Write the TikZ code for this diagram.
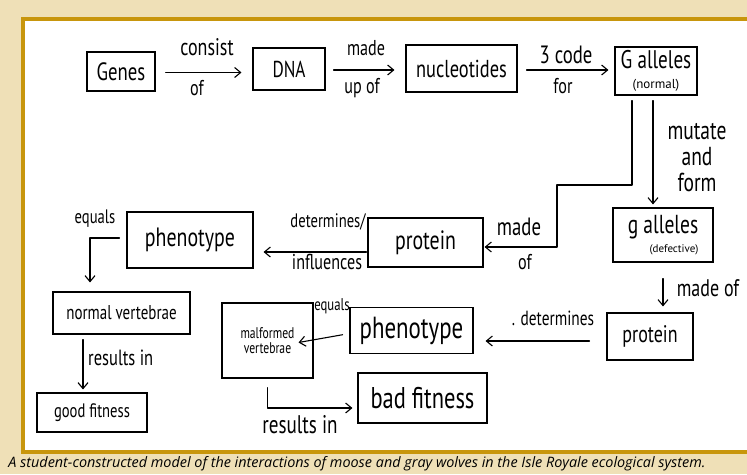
\documentclass[tikz,border=0pt]{standalone}
\usepackage{fontspec}
\usetikzlibrary{arrows.meta,calc}
\newfontfamily\hand[FakeStretch=0.75]{PT Sans}
\newfontfamily\handwide{PT Sans}
\newfontfamily\capfont{Open Sans}
\definecolor{paper}{RGB}{239,224,183}
\definecolor{gold}{RGB}{200,150,12}
\newcommand\hsz[1]{\fontsize{#1}{#1}\selectfont}

\begin{document}
\begin{tikzpicture}[x=1pt,y=-1pt,
  box/.style={draw,line width=1.1pt,inner sep=0pt,align=center,font=\hand\hsz{26}},
  lbl/.style={font=\hand\hsz{21.5},inner sep=0pt,align=center},
  small/.style={font=\handwide\hsz{12},inner sep=0pt},
  arr/.style={-{Straight Barb[length=6pt,width=10pt,line width=1.1pt]},line width=1.1pt,line cap=round,line join=round},
]
\useasboundingbox (0,0) rectangle (747,474);
% page and framed panel
\fill[paper] (0,0) rectangle (747,474);
\fill[white] (23,19) rectangle (752,452);
\draw[gold,line width=3.5pt] (752,19) -- (23,19) -- (23,452) -- (752,452);

% top row
\node[box,minimum width=68pt,minimum height=39pt,font=\hand\hsz{25}] (genes) at (121,71.5) {Genes};
\node[box,minimum width=72pt,minimum height=42pt,font=\hand\hsz{23}] (dna) at (289,69) {DNA};
\node[box,minimum width=111pt,minimum height=47pt,font=\hand\hsz{24.5}] (nucl) at (461.5,68.5) {nucleotides};
\node[box,minimum width=82pt,minimum height=48pt,font=\hand\hsz{25.5}] (Gal) at (656,71)
  {G alleles\\[-6pt]{\handwide\hsz{13}(normal)}};

% right column
\node[box,minimum width=100pt,minimum height=54pt,font=\hand\hsz{26}] (gal) at (663,235)
  {g alleles\\[-7pt]\hspace*{22pt}{\handwide\hsz{11}(defective)}};
\node[box,minimum width=86pt,minimum height=47pt,font=\hand\hsz{24}] (prot2) at (650,336.5) {protein};

% middle
\node[box,minimum width=115pt,minimum height=49pt,font=\hand\hsz{26.5}] (prot1) at (425.5,242.5) {protein};
\node[box,minimum width=126pt,minimum height=56pt,font=\hand\hsz{26.5}] (pheno1) at (190,240) {phenotype};
\node[box,minimum width=123pt,minimum height=46pt,font=\hand\hsz{30.5}] (pheno2) at (411.5,330.5) {phenotype};

% lower left
\node[box,minimum width=137pt,minimum height=42pt,font=\hand\hsz{20}] (normal) at (121.5,313) {normal vertebrae};
\node[box,minimum width=110pt,minimum height=39pt,font=\hand\hsz{19.5}] (good) at (92,412.5) {good fitness};
\node[box,minimum width=91pt,minimum height=75pt,font=\hand\hsz{15.5}] (malf) at (267.5,340.5) {malformed\\vertebrae};
\node[box,minimum width=129pt,minimum height=50pt,font=\hand\hsz{30}] (bad) at (422.5,398) {bad fitness};

% connectors along the top row
\draw[arr,shorten <=10pt,shorten >=11pt] ([yshift=-1pt]genes.east) -- ([yshift=-1pt]genes.east -| dna.west);
\node[lbl,font=\hand\hsz{24}] at (207,47) {consist};
\node[lbl] at (197,88) {of};
\draw[arr,shorten <=8pt,shorten >=11pt] ([yshift=-1pt]dna.east) -- ([yshift=-1pt]dna.east -| nucl.west);
\node[lbl] at (366,48) {made};
\node[lbl] at (362,88) {up of};
\draw[arr,shorten <=9pt,shorten >=6pt] ([yshift=-1.5pt]nucl.east) -- ([yshift=-1.5pt]nucl.east -| Gal.west);
\node[lbl,font=\hand\hsz{25}] at (566,55) {3 code};
\node[lbl] at (563,86) {for};

% normal alleles feed the protein, mutated alleles form g alleles
\coordinate (turn) at (557,185);
\draw[arr,shorten >=1pt] ([xshift=-24pt,yshift=-5pt]Gal.south) |- (turn) |- ([yshift=-4.5pt]prot1.east);
\node[lbl,font=\hand\hsz{25}] at (519,227) {made};
\node[lbl] at (525,262) {of};
\draw[arr,shorten >=3pt] ([xshift=-3pt,yshift=-5pt]Gal.south) -- ([xshift=-10pt]gal.north);
\node[lbl,font=\hand\hsz{26}] at (697,158) {mutate\\and\\form};

\draw[arr,shorten <=16pt,shorten >=6pt] (gal.south) -- (gal.south |- prot2.north);
\node[lbl,font=\hand\hsz{24}] at (708,288) {made of};

\draw[arr,shorten <=17pt,shorten >=12pt] ([yshift=-4.5pt]prot2.west) -- ([yshift=-4.5pt]prot2.west -| pheno2.east);
\node[lbl,font=\hand\hsz{20.5}] at (553,318) {. determines};

\draw[arr,shorten <=7pt] ([yshift=-3pt]pheno2.west) -- ([xshift=-15pt,yshift=-2pt]malf.east);
\node[lbl,font=\hand\hsz{17}] at (332,306) {equals};

\draw[arr,shorten <=9pt,shorten >=5pt] (malf.south) |- ([yshift=-10pt]bad.west);
\node[lbl,font=\hand\hsz{25.5}] at (300,425) {results in};

% left branch
\draw[arr,shorten <=1pt,shorten >=10pt] ([yshift=-9.5pt]prot1.west) -- ([yshift=-9.5pt]prot1.west -| pheno1.east);
\node[lbl,font=\hand\hsz{19.5}] at (328,222) {determines/};
\node[lbl] at (327,262) {influences};

\draw[arr,shorten <=7pt,shorten >=9pt] ([yshift=2pt]pheno1.west) -| ([xshift=-31.5pt]normal.north);
\node[lbl,font=\hand\hsz{19.5}] at (95,219) {equals};

\draw[arr,shorten <=5pt,shorten >=3pt] ([xshift=-38.5pt]normal.south) -- ([xshift=-9pt]good.north);
\node[lbl,anchor=west,font=\hand\hsz{22}] at (88,358) {results in};

% caption
\node[font=\capfont\itshape\fontsize{14.4}{16}\selectfont,inner sep=0pt] (cap) at (357,463.5)
  {A student-constructed model of the interactions of moose and gray wolves in the Isle Royale ecological system.};
\end{tikzpicture}
\end{document}
